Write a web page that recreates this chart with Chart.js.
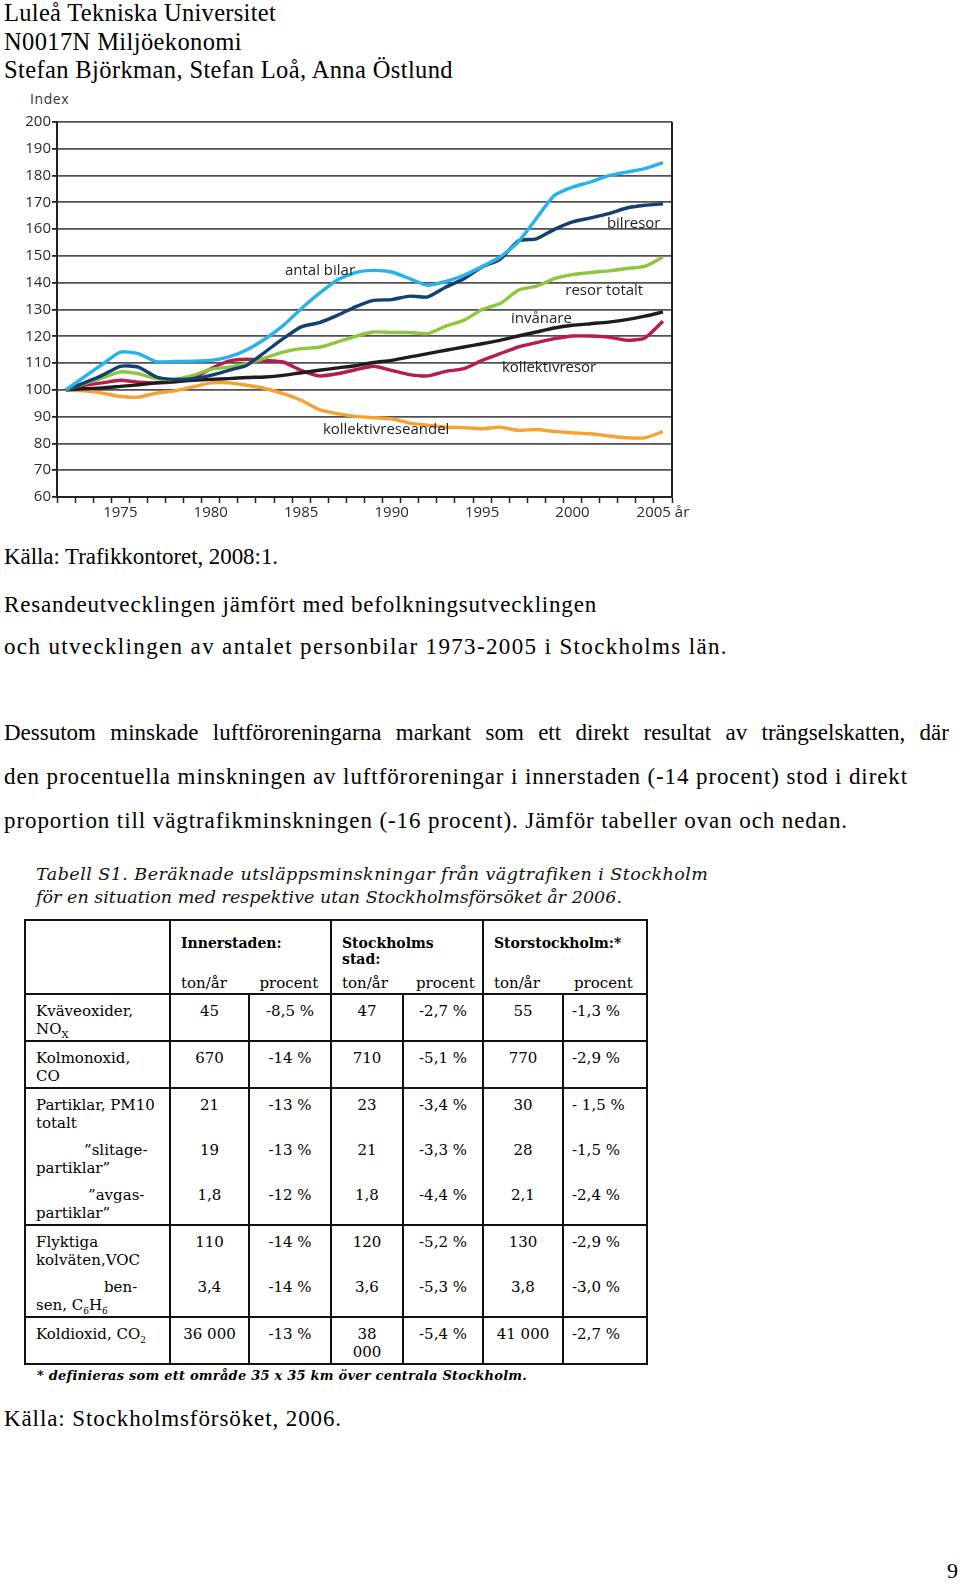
<!DOCTYPE html>
<html lang="sv">
<head>
<meta charset="utf-8">
<title>Resandeutvecklingen i Stockholms län</title>
<script src="https://cdn.jsdelivr.net/npm/chart.js@4.4.1/dist/chart.umd.min.js"></script>
<style>
  html, body { margin: 0; padding: 0; background: #fff; }
  body { width: 960px; height: 1592px; position: relative; overflow: hidden; color: #000; }
  .t { position: absolute; left: 4px; font-family: "Liberation Serif", "Times New Roman", serif; white-space: nowrap; }
  .head { font-size: 24.5px; line-height: 28.6px; }
  .body { font-size: 23px; line-height: 26px; }
  .just { width: 945px; text-align: justify; text-align-last: justify; }
  #chartBox { position: absolute; left: 0; top: 80px; width: 700px; height: 450px; }
  #indexLbl { position: absolute; left: 30px; top: 89px; font: 14px "Open Sans", sans-serif; color: #333; letter-spacing: 0.6px; }
  .tt { position: absolute; left: 36px; font: italic 17.5px/23px "DejaVu Serif", serif; white-space: nowrap; color: #111; }
  table { position: absolute; left: 24px; top: 919px; border-collapse: collapse; table-layout: fixed;
          font: 15px/18px "DejaVu Serif", serif; }
  td { border: 2px solid #111; vertical-align: top; padding: 0; }
  .sub { height: 45px; box-sizing: border-box; padding-top: 7px; }
  .lbl { padding-left: 10px; }
  .c { text-align: center; }
  .l { padding-left: 8px; }
  .hd { font-weight: bold; font-size: 14px; line-height: 16px; padding-left: 10px; padding-top: 14px; height: 53px; box-sizing: border-box; }
  .foot { position: absolute; left: 37px; top: 1368px; font: italic bold 13px "DejaVu Serif", serif; white-space: nowrap; }
  .pg { position: absolute; left: 947px; top: 1558px; font: 22px "Liberation Serif", serif; }
</style>
</head>
<body>

<div class="t head" style="top:-1px" data-w="272">Luleå Tekniska Universitet</div>
<div class="t head" style="top:27.6px" data-w="238">N0017N Miljöekonomi</div>
<div class="t head" style="top:56.2px" data-w="449">Stefan Björkman, Stefan Loå, Anna Östlund</div>

<div id="indexLbl">Index</div>
<div id="chartBox"><canvas id="chart"></canvas></div>

<div class="t body" style="top:544px" data-w="274">Källa: Trafikkontoret, 2008:1.</div>
<div class="t body" style="top:592px" data-w="593">Resandeutvecklingen jämfört med befolkningsutvecklingen</div>
<div class="t body" style="top:634px" data-w="724">och utvecklingen av antalet personbilar 1973-2005 i Stockholms län.</div>
<div class="t body just" style="top:720px">Dessutom minskade luftföroreningarna markant som ett direkt resultat av trängselskatten, där</div>
<div class="t body" style="top:764px" data-w="904">den procentuella minskningen av luftföroreningar i innerstaden (-14 procent) stod i direkt</div>
<div class="t body" style="top:808px" data-w="844">proportion till vägtrafikminskningen (-16 procent). Jämför tabeller ovan och nedan.</div>

<div class="tt" style="top:863px" data-w="672">Tabell S1. Beräknade utsläppsminskningar från vägtrafiken i Stockholm</div>
<div class="tt" style="top:886px" data-w="586">för en situation med respektive utan Stockholmsförsöket år 2006.</div>

<table id="tbl"></table>

<div class="foot" data-w="489">* definieras som ett område 35 x 35 km över centrala Stockholm.</div>
<div class="t body" style="top:1406px" data-w="338">Källa: Stockholmsförsöket, 2006.</div>
<div class="pg">9</div>

<script>
// --- Data för diagrammet (index, 1972 = 100) ---
const years = [1972, 1973, 1974, 1975, 1976, 1977, 1978, 1979, 1980, 1981, 1982, 1983,
  1984, 1985, 1986, 1987, 1988, 1989, 1990, 1991, 1992, 1993, 1994, 1995, 1996, 1997,
  1998, 1999, 2000, 2001, 2002, 2003, 2004, 2005];

const antalBilar = [100, 104.8, 109.5, 114.1, 113.5, 110.5, 110.6, 110.7, 111, 112.3, 115, 119,
  124, 130.3, 136, 141, 143.8, 144.6, 144, 141.5, 139, 140.5, 142.8, 146, 149.6, 155.2,
  164, 172.6, 175.7, 177.6, 180, 181.3, 182.6, 184.8];

const bilresor = [100, 102.6, 105.4, 108.8, 108.5, 104.8, 103.9, 104.2, 105.4, 107.3, 109.2, 114.1,
  119.1, 123.5, 125.1, 127.8, 131, 133.4, 133.7, 135, 134.7, 138.4, 141.5, 145.9, 148.7, 155.6,
  156.4, 159.9, 162.7, 164.2, 165.8, 167.9, 168.9, 169.5];

const resorTotalt = [100, 102.3, 104.4, 106.7, 106, 104.2, 103.9, 105.4, 107.7, 108.5, 109.8, 111.9,
  114.1, 115.4, 115.9, 117.9, 120, 121.6, 121.4, 121.4, 121, 123.8, 126, 130, 132.2, 137.2,
  138.7, 141.5, 143, 143.8, 144.4, 145.3, 146.1, 149.6];

const invanare = [100, 100.4, 100.7, 101.3, 101.9, 102.6, 103.2, 103.6, 103.9, 104.2, 104.6, 104.8,
  105.4, 106.4, 107.3, 108.2, 109, 110.2, 111, 112.3, 113.5, 114.8, 116, 117.2, 118.5, 120.1,
  121.6, 123.1, 124.1, 124.7, 125.3, 126.2, 127.5, 129.1];

const kollektivresor = [100, 101.7, 102.6, 103.6, 102.9, 102.6, 102.9, 104.2, 107.9, 110.7, 111.4, 111,
  110.4, 107.3, 105.2, 106, 107.5, 108.8, 107.3, 105.7, 105.2, 106.9, 107.9, 111, 113.5, 116,
  117.6, 119.1, 120.1, 120.1, 119.7, 118.5, 119.4, 125.6];

const kollektivreseandel = [100, 99.6, 98.8, 97.5, 97.3, 98.8, 99.6, 101.1, 102.6, 102.6, 101.7, 100.5,
  98.6, 96.1, 92.6, 91.1, 90.1, 89.6, 89.2, 87.6, 86.8, 86.1, 85.9, 85.5, 86.1, 84.9,
  85.2, 84.5, 84, 83.6, 82.8, 82.1, 82.1, 84.4];

// Etiketter i diagrammet: [text, år-index (decimal), indexvärde]
const lineLabels = [
  ['antal bilar', 12.1, 144.3],
  ['bilresor', 29.9, 162.1],
  ['resor totalt', 27.6, 137.1],
  ['invånare', 24.6, 126.5],
  ['kollektivresor', 24.1, 108.3],
  ['kollektivreseandel', 14.2, 85.2]
];

// --- Tabelldata ---
const tblHeads = ['Innerstaden:', 'Stockholms<br>stad:', 'Storstockholm:*'];
const tblUnits = ['ton/år', 'procent'];
// varje grupp: lista av rader [etikett-rad1, etikett-rad2, indrag, 6 värden]
const tblGroups = [
  [['Kväveoxider,', 'NO<sub style="font-size:10px">X</sub>', 0, '45', '-8,5 %', '47', '-2,7 %', '55', '-1,3 %']],
  [['Kolmonoxid,', 'CO', 0, '670', '-14 %', '710', '-5,1 %', '770', '-2,9 %']],
  [['Partiklar, PM10', 'totalt', 0, '21', '-13 %', '23', '-3,4 %', '30', '- 1,5 %'],
   ['”slitage-', 'partiklar”', 48, '19', '-13 %', '21', '-3,3 %', '28', '-1,5 %'],
   ['”avgas-', 'partiklar”', 52, '1,8', '-12 %', '1,8', '-4,4 %', '2,1', '-2,4 %']],
  [['Flyktiga', 'kolväten,VOC', 0, '110', '-14 %', '120', '-5,2 %', '130', '-2,9 %'],
   ['ben-', 'sen, C<sub style="font-size:9px">6</sub>H<sub style="font-size:9px">6</sub>', 68, '3,4', '-14 %', '3,6', '-5,3 %', '3,8', '-3,0 %']],
  [['Koldioxid, CO<sub style="font-size:9px">2</sub>', '', 0, '36 000', '-13 %', '38<br>000', '-5,4 %', '41 000', '-2,7 %']]
];
const colW = [145, 79, 82, 72, 80, 80, 84];

function buildTable() {
  const tbl = document.getElementById('tbl');
  let html = '<colgroup>' + colW.map(w => '<col style="width:' + w + 'px">').join('') + '</colgroup>';
  html += '<tr style="height:74px"><td></td>';
  tblHeads.forEach(h => {
    html += '<td colspan="2"><div class="hd">' + h + '</div>' +
      '<div style="display:flex"><div style="width:50%;padding-left:10px">' + tblUnits[0] +
      '</div><div style="width:50%;padding-left:8px">' + tblUnits[1] + '</div></div></td>';
  });
  html += '</tr>';
  tblGroups.forEach(g => {
    html += '<tr>';
    html += '<td>' + g.map(r => '<div class="sub lbl"><div style="padding-left:' + r[2] + 'px">' + r[0] +
      '</div><div>' + r[1] + '</div></div>').join('') + '</td>';
    for (let c = 0; c < 6; c++) {
      const cls = c === 5 ? 'sub l' : 'sub c';
      html += '<td>' + g.map(r => '<div class="' + cls + '">' + r[3 + c] + '</div>').join('') + '</td>';
    }
    html += '</tr>';
  });
  tbl.innerHTML = html;
}
buildTable();

// Textrader: sprid bokstäverna så att raden får samma bredd som i originalet
function fitLines() {
  document.querySelectorAll('[data-w]').forEach(el => {
    el.style.letterSpacing = '0px';
    const w = el.getBoundingClientRect().width;
    const n = el.textContent.length;
    el.style.letterSpacing = ((+el.dataset.w - w) / n).toFixed(3) + 'px';
  });
}
fitLines();
if (document.fonts) document.fonts.ready.then(fitLines);

// --- Diagrammet ---
const ctx = document.getElementById('chart').getContext('2d');

const series = [
  { label: 'antal bilar', data: antalBilar, color: '#27b2ea' },
  { label: 'bilresor', data: bilresor, color: '#133f72' },
  { label: 'resor totalt', data: resorTotalt, color: '#8cc63e' },
  { label: 'invånare', data: invanare, color: '#1d1d1d' },
  { label: 'kollektivresor', data: kollektivresor, color: '#b71c4c' },
  { label: 'kollektivreseandel', data: kollektivreseandel, color: '#f6a132' }
];

// Ram runt plottytan + etiketter vid linjerna
const framePlugin = {
  id: 'frame',
  beforeDatasetsDraw(chart) {
    const a = chart.chartArea, c = chart.ctx;
    c.save();
    c.strokeStyle = '#222';
    c.lineWidth = 2;
    c.beginPath();
    c.moveTo(a.right, a.top);
    c.lineTo(a.right, a.bottom);
    c.stroke();
    c.restore();
  },
  afterDatasetsDraw(chart) {
    const c = chart.ctx, xs = chart.scales.x, ys = chart.scales.y;
    c.save();
    c.font = '15px "Open Sans", sans-serif';
    c.fillStyle = '#222';
    c.textBaseline = 'middle';
    lineLabels.forEach(l => {
      c.fillText(l[0], xs.getPixelForValue(l[1]), ys.getPixelForValue(l[2]));
    });
    c.restore();
  }
};

new Chart(ctx, {
  type: 'line',
  data: {
    labels: years,
    datasets: series.map(s => ({
      label: s.label,
      data: s.data,
      borderColor: s.color,
      backgroundColor: s.color,
      borderWidth: 3.4,
      pointRadius: 0,
      tension: 0.2,
      fill: false
    }))
  },
  options: {
    responsive: true,
    maintainAspectRatio: false,
    animation: false,
    devicePixelRatio: 1,
    layout: { padding: { top: 42, right: 28, left: 0, bottom: 0 } },
    plugins: { legend: { display: false }, tooltip: { enabled: false } },
    scales: {
      x: {
        type: 'category',
        offset: true,
        grid: { offset: true, drawOnChartArea: false, drawTicks: true, tickLength: 6, tickColor: '#222', tickWidth: 1.5 },
        border: { display: true, color: '#222', width: 2 },
        ticks: {
          autoSkip: false, maxRotation: 0, padding: 1,
          color: '#2a2a2a', font: { family: 'Open Sans', size: 15 },
          callback: function (value, index) {
            const y = years[index];
            if (y % 5 !== 0) return '';
            return y === 2005 ? '2005 år' : String(y);
          }
        },
        afterFit: function (scale) { scale.height = 33; }
      },
      y: {
        min: 60,
        max: 200,
        grid: { color: '#505050', lineWidth: 1.8, drawTicks: true, tickLength: 5, tickColor: '#222' },
        border: { display: true, color: '#222', width: 2 },
        ticks: { stepSize: 10, padding: 1, color: '#2a2a2a', font: { family: 'Open Sans', size: 15 } },
        afterFit: function (scale) { scale.width = 57; }
      }
    }
  },
  plugins: [framePlugin]
});
</script>
</body>
</html>
